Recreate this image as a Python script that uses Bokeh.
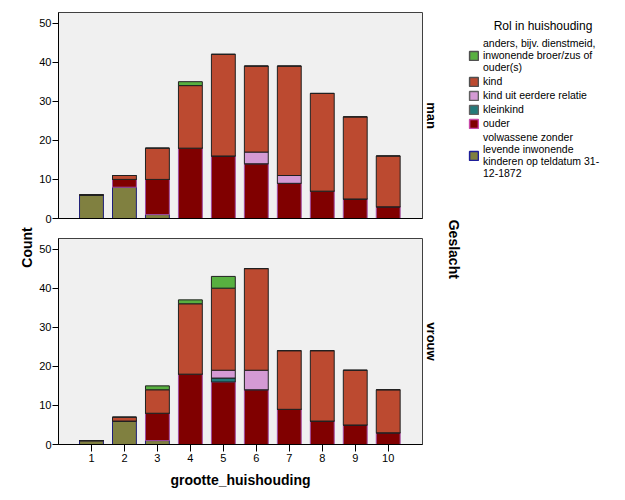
import numpy as np
from bokeh.plotting import figure
from bokeh.models import (Range1d, FixedTicker, LinearAxis, Legend, LegendItem,
                          ColumnDataSource, Label)
from bokeh.layouts import row, column
from bokeh.embed import file_html
from bokeh.resources import INLINE

# ---------------- data ----------------
sizes = [1, 2, 3, 4, 5, 6, 7, 8, 9, 10]
size_labels = [str(s) for s in sizes]

# stack order bottom -> top
role_keys = ["volwassene", "ouder", "kleinkind", "kind_uit", "kind", "anders"]
legend_order = ["anders", "kind", "kind_uit", "kleinkind", "ouder", "volwassene"]
role_labels = {
    "anders": "anders, bijv. dienstmeid,\ninwonende broer/zus of\nouder(s)",
    "kind": "kind",
    "kind_uit": "kind uit eerdere relatie",
    "kleinkind": "kleinkind",
    "ouder": "ouder",
    "volwassene": "volwassene zonder\nlevende inwonende\nkinderen op teldatum 31-\n12-1872",
}
role_colors = {
    "volwassene": "#808040",
    "ouder": "#800000",
    "kleinkind": "#237a7a",
    "kind_uit": "#d49ad4",
    "kind": "#bc4a30",
    "anders": "#58b040",
}
role_lines = {
    "volwassene": "#1e1e78",
    "ouder": "#a04ca0",
    "kleinkind": "#202020",
    "kind_uit": "#202020",
    "kind": "#202020",
    "anders": "#202020",
}
legend_lines = {
    "volwassene": "#1e1e9a",
    "ouder": "#c848a8",
    "kleinkind": "#606060",
    "kind_uit": "#606060",
    "kind": "#505050",
    "anders": "#505050",
}

man_volwassene = [6, 8, 1, 0, 0, 0, 0, 0, 0, 0]
man_ouder      = [0, 2, 9, 18, 16, 14, 9, 7, 5, 3]
man_kleinkind  = [0, 0, 0, 0, 0, 0, 0, 0, 0, 0]
man_kind_uit   = [0, 0, 0, 0, 0, 3, 2, 0, 0, 0]
man_kind       = [0, 1, 8, 16, 26, 22, 28, 25, 21, 13]
man_anders     = [0, 0, 0, 1, 0, 0, 0, 0, 0, 0]

vrouw_volwassene = [1, 6, 1, 0, 0, 0, 0, 0, 0, 0]
vrouw_ouder      = [0, 0, 7, 18, 16, 14, 9, 6, 5, 3]
vrouw_kleinkind  = [0, 0, 0, 0, 1, 0, 0, 0, 0, 0]
vrouw_kind_uit   = [0, 0, 0, 0, 2, 5, 0, 0, 0, 0]
vrouw_kind       = [0, 1, 6, 18, 21, 26, 15, 18, 14, 11]
vrouw_anders     = [0, 0, 1, 1, 3, 0, 0, 0, 0, 0]

y_ticks = [0, 10, 20, 30, 40, 50]

FONT = "Liberation Sans"
PANEL_BG = "#f0f0f0"
TOTAL_H = 492

man_src = ColumnDataSource(dict(x=sizes, volwassene=man_volwassene, ouder=man_ouder,
                                kleinkind=man_kleinkind, kind_uit=man_kind_uit,
                                kind=man_kind, anders=man_anders))
vrouw_src = ColumnDataSource(dict(x=sizes, volwassene=vrouw_volwassene, ouder=vrouw_ouder,
                                  kleinkind=vrouw_kleinkind, kind_uit=vrouw_kind_uit,
                                  kind=vrouw_kind, anders=vrouw_anders))


def panel(src, strip, height, top_border, bottom_border, show_x):
    p = figure(width=405, height=height, output_backend="svg", toolbar_location=None,
               x_range=Range1d(0, 11.04), y_range=Range1d(0, 52.7),
               min_border_left=21, min_border_right=18,
               min_border_top=top_border, min_border_bottom=bottom_border,
               background_fill_color=PANEL_BG, border_fill_color="white",
               outline_line_color="#404040")
    p.grid.visible = False
    p.vbar_stack(role_keys, x="x", width=0.724, source=src,
                 fill_color=[role_colors[k] for k in role_keys],
                 line_color=[role_lines[k] for k in role_keys],
                 line_width=1)
    ya = p.yaxis[0]
    ya.ticker = FixedTicker(ticks=y_ticks)
    ya.minor_tick_line_color = None
    ya.major_tick_out = 6
    ya.major_tick_in = 0
    ya.major_label_standoff = 1
    ya.major_label_text_font = FONT
    ya.major_label_text_font_size = "11px"
    ya.major_label_text_color = "black"
    ya.axis_line_color = "black"
    ya.major_tick_line_color = "black"

    xa = p.xaxis[0]
    xa.axis_line_color = "black"
    xa.minor_tick_line_color = None
    if show_x:
        xa.ticker = FixedTicker(ticks=sizes)
        xa.major_label_overrides = {s: l for s, l in zip(sizes, size_labels)}
        xa.major_tick_out = 7
        xa.major_tick_in = 0
        xa.major_label_standoff = 2
        xa.major_label_text_font = FONT
        xa.major_label_text_font_size = "11px"
        xa.major_label_text_color = "black"
        xa.axis_label = "grootte_huishouding"
        xa.axis_label_text_font = FONT
        xa.axis_label_text_font_size = "14px"
        xa.axis_label_text_font_style = "bold"
        xa.axis_label_text_color = "black"
        xa.axis_label_standoff = 7
    else:
        xa.ticker = FixedTicker(ticks=[])
        xa.major_tick_out = 0
        xa.major_label_text_font_size = "0px"

    ra = LinearAxis(ticker=FixedTicker(ticks=[]), axis_line_color=None,
                    major_tick_out=0, major_label_text_font_size="0px",
                    axis_label=strip, axis_label_standoff=1,
                    axis_label_text_font=FONT, axis_label_text_font_size="13px",
                    axis_label_text_font_style="bold", axis_label_text_color="black")
    p.add_layout(ra, "right")
    return p


top = panel(man_src, "man", 228, 12, 10, False)
bot = panel(vrouw_src, "vrouw", 264, 10, 48, True)


def side_fig(w):
    f = figure(width=w, height=TOTAL_H, output_backend="svg", toolbar_location=None,
               x_range=Range1d(0, w), y_range=Range1d(TOTAL_H, 0),
               x_axis_type=None, y_axis_type=None, min_border=0,
               outline_line_color=None, border_fill_color="white",
               background_fill_color="white")
    f.grid.visible = False
    return f


# ---- "Count" side label ----
count_fig = side_fig(36)
count_fig.add_layout(Label(x=26.5, y=227, text="Count", angle=np.pi / 2,
                           text_align="center", text_baseline="middle",
                           text_font=FONT, text_font_size="14px",
                           text_font_style="bold", text_color="black"))

# ---- "Geslacht" label ----
ges_fig = side_fig(22)
ges_fig.add_layout(Label(x=12, y=229, text="Geslacht", angle=-np.pi / 2,
                         text_align="center", text_baseline="middle",
                         text_font=FONT, text_font_size="14px",
                         text_font_style="bold", text_color="black"))

# ---- legend ----
leg_fig = figure(width=154, height=TOTAL_H, output_backend="svg", toolbar_location=None,
                 x_range=Range1d(0, 1), y_range=Range1d(0, 1),
                 x_axis_type=None, y_axis_type=None,
                 min_border_left=5, min_border_top=37, min_border_right=0, min_border_bottom=0,
                 outline_line_color=None, border_fill_color="white",
                 background_fill_color="white",
                 title="Rol in huishouding")
leg_fig.grid.visible = False
leg_fig.title.align = "center"
leg_fig.title.text_font = FONT
leg_fig.title.text_font_size = "12px"
leg_fig.title.text_font_style = "normal"
leg_fig.title.text_color = "black"

items = []
for k in legend_order:
    r = leg_fig.vbar(x=np.array([np.nan]), top=np.array([np.nan]), width=0.5,
                     fill_color=role_colors[k], line_color=legend_lines[k], line_width=1.5)
    items.append(LegendItem(label=role_labels[k], renderers=[r]))

legend = Legend(items=items, location="top_left", margin=0, padding=0,
                border_line_color=None, background_fill_alpha=0,
                glyph_width=11, glyph_height=11, label_standoff=4, spacing=2,
                label_text_font=FONT, label_text_font_size="10.5px",
                label_text_color="black", label_text_line_height=0.8,
                label_height=10)
leg_fig.add_layout(legend, "center")

layout = row(count_fig, column(top, bot), ges_fig, leg_fig)

open("out.html", "w").write(file_html(layout, INLINE))
